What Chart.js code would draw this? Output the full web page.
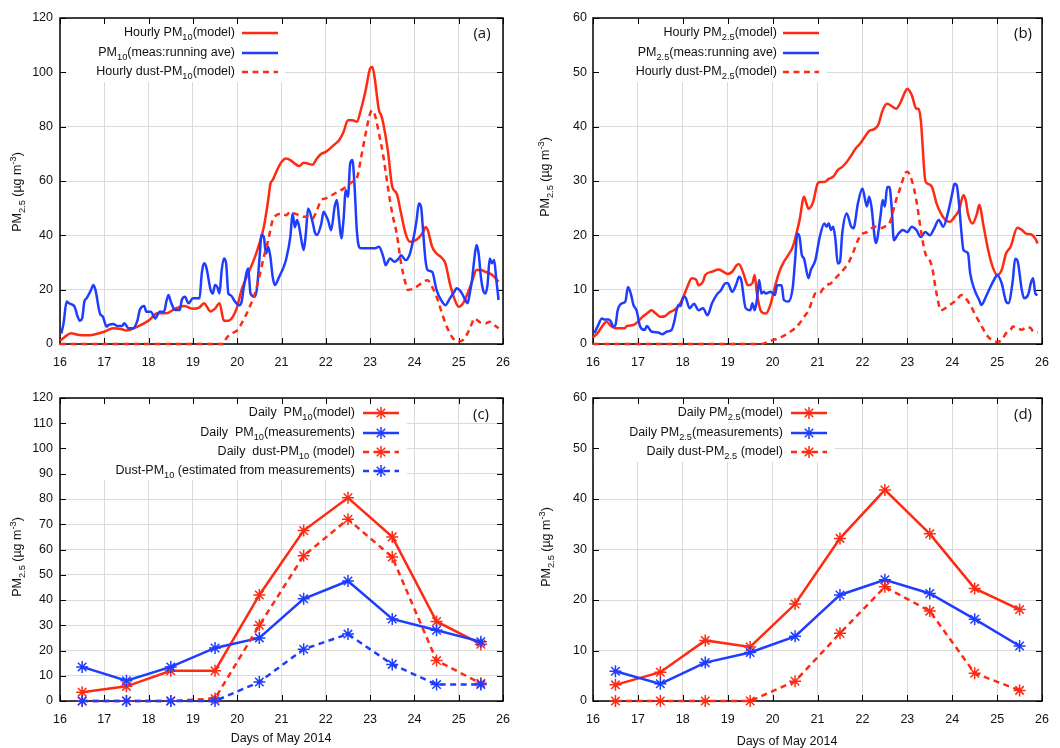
<!DOCTYPE html>
<html>
<head>
<meta charset="utf-8">
<script src="https://cdn.jsdelivr.net/npm/chart.js@4.4.1/dist/chart.umd.min.js"></script>
<style>
  html, body { margin: 0; padding: 0; background: #fff; }
  #wrap { position: relative; width: 1060px; height: 748px; overflow: hidden; background: #fff; }
  canvas { position: absolute; }
</style>
</head>
<body>
<div id="wrap">
  <canvas id="pa" width="530" height="380" style="left:0;top:0"></canvas>
  <canvas id="pb" width="530" height="380" style="left:530px;top:0"></canvas>
  <canvas id="pc" width="530" height="368" style="left:0;top:380px"></canvas>
  <canvas id="pd" width="530" height="368" style="left:530px;top:380px"></canvas>
</div>
<script>
// ---------- hourly series, 16-26 May 2014: [day, µg m-3] ----------
const hourlyPM10Model = [
  [16.0,1.2],[16.1,2.5],[16.25,4],[16.4,3.4],[16.6,3.2],[16.75,3.4],[17.0,4.5],[17.2,5.8],[17.4,5.4],[17.5,5],
  [17.75,6.4],[18.0,8.6],[18.2,11.3],[18.4,11.3],[18.6,13],[18.8,14],[19.0,13],[19.15,13.5],[19.25,15],[19.4,12],
  [19.5,13],[19.6,15],[19.7,8.6],[19.8,8.6],[19.9,10],[20.0,13.7],[20.1,20],[20.25,26],[20.4,32],[20.5,37],
  [20.6,43],[20.7,53],[20.75,59],[20.8,60.3],[20.9,64],[21.0,67],[21.1,68.3],[21.2,67.7],[21.3,66.4],[21.4,65.5],
  [21.5,66.7],[21.6,66.4],[21.7,66],[21.8,68.3],[21.9,70],[22.0,70.7],[22.1,72],[22.2,73.5],[22.3,75],[22.4,78],
  [22.5,82.4],[22.6,82.4],[22.7,81.8],[22.8,86.7],[22.9,93.4],[23.0,101.4],[23.05,102],[23.1,98.3],[23.2,86],[23.25,84.2],
  [23.3,81],[23.4,71.3],[23.5,57.9],[23.6,55.4],[23.7,48],[23.8,40.7],[23.9,37.6],[24.0,38],[24.1,39.2],[24.2,41.3],
  [24.25,43.1],[24.3,42],[24.4,35.8],[24.5,33.3],[24.6,32],[24.7,29.7],[24.8,22.3],[24.9,16.8],[25.0,13.7],[25.1,15],
  [25.2,18.6],[25.3,22.9],[25.4,27.2],[25.5,27.2],[25.6,26.6],[25.7,26],[25.8,24.8],[25.9,22.9]
];
const hourlyPM10Meas = [
  [16.03,3.9],[16.08,7.6],[16.15,15.6],[16.2,15],[16.25,14.7],[16.33,13.7],[16.4,10],[16.45,8.6],[16.5,9.4],[16.55,15.6],
  [16.6,16.8],[16.7,19.9],[16.75,21.7],[16.8,19.9],[16.9,11.3],[16.97,10],[17.05,6.4],[17.1,7],[17.2,7.4],[17.3,6.6],
  [17.4,6.6],[17.45,7.6],[17.55,5.8],[17.65,5.8],[17.75,8.8],[17.8,12.5],[17.9,14],[17.95,11.9],[18.05,11.9],[18.15,9.4],
  [18.25,11.9],[18.35,11.9],[18.4,15.6],[18.45,18],[18.5,15.6],[18.6,12.5],[18.7,12.5],[18.75,16.2],[18.82,17.4],[18.9,15],
  [19.0,16.8],[19.15,16.8],[19.2,26],[19.25,29.7],[19.3,28.4],[19.4,19.9],[19.45,18.6],[19.5,21.7],[19.55,21],[19.6,18.6],
  [19.65,27.2],[19.7,31.5],[19.75,29.7],[19.8,18.6],[19.85,18],[19.95,15.6],[20.05,14.3],[20.1,15.6],[20.15,21],[20.25,27.8],
  [20.3,18.6],[20.4,17.4],[20.45,21],[20.5,30.9],[20.55,40.1],[20.6,39.5],[20.65,33.3],[20.7,35.8],[20.75,32],[20.8,24.8],
  [20.85,21.7],[20.95,24.8],[21.05,28.4],[21.1,30.9],[21.2,39.5],[21.25,48],[21.3,43],[21.35,45.6],[21.4,43],[21.45,38.2],
  [21.5,34.6],[21.55,40.7],[21.6,49.9],[21.7,45],[21.75,41.3],[21.8,40.1],[21.9,44.4],[21.95,48.7],[22.0,47.4],[22.05,45.6],
  [22.12,41.9],[22.2,50.5],[22.25,53],[22.3,45.6],[22.35,38.9],[22.4,45.6],[22.45,56.6],[22.5,54.2],[22.55,66.4],[22.6,67.7],
  [22.65,57.9],[22.7,41.9],[22.75,35.8],[22.8,35.2],[22.9,35.2],[23.0,35.2],[23.1,35.2],[23.2,35.8],[23.3,32],[23.35,29],
  [23.45,31.5],[23.55,30.3],[23.65,31.5],[23.7,32.7],[23.8,30.9],[23.9,33.3],[24.0,40.7],[24.05,45.6],[24.1,51.7],[24.15,50.5],
  [24.2,40.7],[24.25,30.9],[24.3,27.2],[24.4,26.6],[24.5,19.9],[24.6,16.2],[24.7,14.3],[24.8,16.8],[24.9,19.2],[24.95,20.5],
  [25.05,19.2],[25.15,16.2],[25.2,15],[25.25,18.6],[25.3,23.5],[25.35,30.9],[25.4,36.4],[25.45,33.3],[25.5,24.8],[25.55,19.9],
  [25.6,18.6],[25.65,21.7],[25.7,31.5],[25.75,29.7],[25.8,30.9],[25.85,23.5],[25.9,16.2]
];
const hourlyDustPM10Model = [
  [16.0,0],[19.7,0],[19.75,2],[19.9,4],[20.0,5],[20.1,7.6],[20.25,12.5],[20.4,18.6],[20.5,24.8],[20.6,32],
  [20.7,38.2],[20.8,45.6],[20.85,47],[21.0,48],[21.1,47.4],[21.2,48.7],[21.3,48],[21.4,47.4],[21.5,46.8],[21.6,47],
  [21.7,46.2],[21.8,49.3],[21.9,53],[22.0,53.6],[22.2,55.4],[22.4,57.2],[22.5,58.5],[22.6,59.7],[22.7,61],[22.8,68.9],
  [22.9,77.5],[23.0,84.8],[23.05,86],[23.1,84.8],[23.2,77.5],[23.3,69],[23.4,57.9],[23.5,48],[23.6,40.7],[23.7,29.7],
  [23.8,22.3],[23.85,19.9],[24.0,20.5],[24.1,21.7],[24.2,22.9],[24.3,23.5],[24.4,21],[24.5,17.4],[24.6,12.5],[24.7,7.6],
  [24.8,4],[24.9,1.5],[25.0,0.9],[25.1,1.5],[25.2,4],[25.3,7.6],[25.35,9.4],[25.5,7.8],[25.6,7.6],[25.7,8.2],
  [25.8,7],[25.9,5.8]
];
const hourlyPM25Model = [
  [16.0,1.2],[16.1,2],[16.2,3.2],[16.3,4.1],[16.4,3.3],[16.5,2.9],[16.7,2.9],[16.75,3.3],[16.9,3.5],[17.0,4.1],
  [17.1,5],[17.2,5.6],[17.3,6.2],[17.4,5.6],[17.5,5],[17.6,5.1],[17.7,5.8],[17.8,6.2],[17.9,6.9],[18.0,8.4],
  [18.1,10.5],[18.2,12.1],[18.3,11.8],[18.35,10.8],[18.45,11.5],[18.5,12.7],[18.65,13.3],[18.8,13.7],[18.9,13.3],[19.0,12.9],
  [19.1,13.3],[19.2,14.5],[19.25,14.7],[19.35,13],[19.45,10.8],[19.55,11.2],[19.6,12.7],[19.65,9.3],[19.75,5.9],[19.85,5.6],
  [19.95,7.2],[20.05,10.5],[20.15,13.3],[20.25,15.1],[20.35,16.4],[20.45,17.9],[20.55,21],[20.6,22.8],[20.7,27.1],[20.75,25.9],
  [20.8,24.9],[20.9,26.1],[21.0,29.5],[21.05,29.8],[21.15,29.8],[21.25,30.4],[21.35,30.8],[21.45,32],[21.55,32.6],[21.65,33.5],
  [21.75,34.7],[21.85,36],[21.95,36.9],[22.05,38.1],[22.15,39.2],[22.25,39.5],[22.35,40.3],[22.45,43],[22.55,44.2],[22.65,43.8],
  [22.75,43.3],[22.85,44.5],[22.95,46.4],[23.0,47],[23.1,45.8],[23.2,43.3],[23.25,43.3],[23.3,41.2],[23.4,30.1],[23.45,29.5],
  [23.55,28.9],[23.65,25.9],[23.75,24],[23.85,22.8],[23.95,22.5],[24.05,23.4],[24.15,24.6],[24.25,27.4],[24.3,26.5],[24.35,24],
  [24.45,22.2],[24.55,24],[24.6,25.6],[24.7,21.6],[24.8,17.3],[24.9,14.2],[25.0,12.7],[25.1,13.6],[25.2,16.7],[25.3,17.9],
  [25.45,21.4],[25.55,21],[25.65,20.3],[25.75,20.2],[25.85,19.4],[25.9,18.5]
];
const hourlyPM25Meas = [
  [16.03,2],[16.1,3.2],[16.2,4.7],[16.25,4.5],[16.35,4.5],[16.4,4.1],[16.45,3.2],[16.5,3.5],[16.55,6.2],[16.65,7.5],
  [16.72,7.8],[16.78,10.5],[16.85,9],[16.9,7.2],[16.97,6.2],[17.05,3.2],[17.15,2.6],[17.2,3.3],[17.3,2.3],[17.45,2.1],
  [17.55,1.8],[17.65,2.3],[17.75,2.6],[17.8,3.8],[17.9,7.2],[17.95,7],[18.0,8.4],[18.05,8.7],[18.15,6.6],[18.25,7.4],
  [18.35,6.2],[18.45,6.6],[18.55,5.3],[18.65,7.5],[18.75,9],[18.85,9.9],[18.95,11.2],[19.0,11.2],[19.1,9.6],[19.2,11.2],
  [19.25,12.4],[19.3,11.8],[19.4,6.6],[19.5,6.2],[19.55,7.5],[19.6,6.2],[19.65,8.1],[19.7,11.8],[19.75,9.3],[19.8,9.6],
  [19.85,9.3],[19.95,9.6],[20.05,9],[20.1,10.8],[20.2,10.8],[20.25,8.1],[20.35,7.8],[20.45,10.5],[20.5,15.4],[20.55,20.3],
  [20.6,19.7],[20.65,16.4],[20.7,15.7],[20.8,12.1],[20.85,13.6],[20.95,15.4],[21.05,19.7],[21.15,22.2],[21.2,21.6],[21.25,22.2],
  [21.3,21],[21.35,21.6],[21.4,19.1],[21.45,14.8],[21.5,15.1],[21.55,20.3],[21.65,24],[21.75,21.6],[21.8,21.3],[21.9,25.9],
  [22.0,28.6],[22.1,25.3],[22.15,27.1],[22.2,25.3],[22.3,18.6],[22.4,23.4],[22.45,26.5],[22.5,25.3],[22.55,28.9],[22.6,28.9],
  [22.65,25.3],[22.7,19.1],[22.8,20.3],[22.9,21],[23.0,20.6],[23.1,21.6],[23.2,21],[23.3,19.7],[23.4,20.6],[23.5,20],
  [23.6,21.3],[23.7,22.8],[23.8,21.6],[23.9,24],[24.0,27.7],[24.05,29.5],[24.1,29.2],[24.15,25.9],[24.2,21],[24.25,17.3],
  [24.35,16.7],[24.4,13],[24.5,9.9],[24.6,8.1],[24.65,7.2],[24.75,8.7],[24.85,10.5],[24.95,12.1],[25.0,12.7],[25.1,11.2],
  [25.2,7.8],[25.25,7.5],[25.35,11.8],[25.4,15.7],[25.45,15.4],[25.55,9.9],[25.6,8.4],[25.7,9.3],[25.75,11.2],[25.8,12.1],
  [25.85,9.3],[25.9,9]
];
const hourlyDustPM25Model = [
  [16.0,0],[19.75,0],[19.9,0.4],[20.0,0.7],[20.2,1.3],[20.4,2.3],[20.5,2.9],[20.6,3.8],[20.7,5],[20.8,6.2],
  [20.9,8.4],[20.95,9.3],[21.05,9.3],[21.1,9.9],[21.2,10.8],[21.3,11.2],[21.4,12.1],[21.5,13],[21.6,13.9],[21.7,15.1],
  [21.8,17],[21.9,19.1],[22.0,20.3],[22.1,20.6],[22.2,21.3],[22.3,21.6],[22.4,21.3],[22.5,21.6],[22.6,22.2],[22.65,23.4],
  [22.75,26.5],[22.85,28.9],[22.95,31.4],[23.0,31.7],[23.1,30.1],[23.2,26.5],[23.3,21],[23.4,16.7],[23.5,15.4],[23.55,14.2],
  [23.65,9.3],[23.75,6.2],[23.85,6.6],[24.0,7.5],[24.1,8.1],[24.2,9],[24.3,8.4],[24.4,7.2],[24.5,5.6],[24.6,4.1],
  [24.7,2.6],[24.8,1.3],[24.9,0.7],[25.0,0.4],[25.1,0.7],[25.2,2],[25.3,2.6],[25.35,3.2],[25.45,2.9],[25.55,2.6],
  [25.65,3.1],[25.75,2.9],[25.8,2.3],[25.9,2.1]
];

// ---------- daily means (plotted at mid-day) ----------
const dailyDays          = [16.5, 17.5, 18.5, 19.5, 20.5, 21.5, 22.5, 23.5, 24.5, 25.5];
const dailyPM10Model     = [3.5, 5.8, 12, 12, 42, 67.5, 80.5, 65, 31.5, 22.5];
const dailyPM10Meas      = [13.5, 8, 13.5, 21, 25, 40.5, 47.5, 32.5, 28, 23.5];
const dailyDustPM10Model = [0, 0, 0, 1, 30, 57.5, 72, 57, 16, 7];
const dailyDustPM10Est   = [0, 0, 0, 0, 7.5, 20.5, 26.5, 14.5, 6.5, 6.5];
const dailyPM25Model     = [3.2, 5.7, 12, 10.7, 19.2, 32.2, 41.8, 33.1, 22.3, 18.1];
const dailyPM25Meas      = [5.9, 3.4, 7.6, 9.6, 12.8, 21, 24, 21.3, 16.2, 10.9];
const dailyDustPM25Model = [0, 0, 0, 0, 3.9, 13.4, 22.6, 17.8, 5.5, 2.1];

// ---------- text ----------
const yTitle = 'PM_{2.5} (µg m^{-3})';
const xTitle = 'Days of May 2014';
const panelTags = ['(a)', '(b)', '(c)', '(d)'];

// ---------- styling ----------
const RED = '#ff2a12';
const BLUE = '#1f3dff';
const GRID = '#dadada';
const FONT = '"Liberation Sans", Arial, Helvetica, sans-serif';
const DASH = [6, 4.5];

// rich text with _{sub} and ^{sup}
function parseRich(s) {
  const segs = []; let buf = ''; let i = 0;
  while (i < s.length) {
    const c = s[i];
    if ((c === '_' || c === '^') && s[i + 1] === '{') {
      if (buf) { segs.push({ t: buf, k: 0 }); buf = ''; }
      const j = s.indexOf('}', i);
      segs.push({ t: s.slice(i + 2, j), k: c === '_' ? 1 : 2 });
      i = j + 1;
    } else { buf += c; i++; }
  }
  if (buf) segs.push({ t: buf, k: 0 });
  return segs;
}
function segFont(k, size) { return (k ? size * 0.74 : size) + 'px ' + FONT; }
function richWidth(ctx, text, size) {
  let w = 0;
  for (const g of parseRich(text)) { ctx.font = segFont(g.k, size); w += ctx.measureText(g.t).width; }
  return w;
}
function drawRich(ctx, text, x, y, size, align) {
  const w = richWidth(ctx, text, size);
  let cx = align === 'right' ? x - w : align === 'center' ? x - w / 2 : x;
  ctx.textAlign = 'left';
  ctx.textBaseline = 'middle';
  for (const g of parseRich(text)) {
    ctx.font = segFont(g.k, size);
    const dy = g.k === 1 ? size * 0.32 : g.k === 2 ? -size * 0.4 : 0;
    ctx.fillText(g.t, cx, y + dy);
    cx += ctx.measureText(g.t).width;
  }
}
function drawStar(ctx, x, y, r) {
  const d = r * Math.SQRT1_2;
  ctx.beginPath();
  ctx.moveTo(x - r, y); ctx.lineTo(x + r, y);
  ctx.moveTo(x, y - r); ctx.lineTo(x, y + r);
  ctx.moveTo(x - d, y - d); ctx.lineTo(x + d, y + d);
  ctx.moveTo(x - d, y + d); ctx.lineTo(x + d, y - d);
  ctx.stroke();
}

// frame with inward mirrored ticks, opaque key, panel tag and axis titles
const gnuFrame = {
  id: 'gnuFrame',
  beforeDatasetsDraw(chart, args, o) {
    const { ctx, chartArea: a, scales: { x, y } } = chart;
    ctx.save();
    // the key box is opaque: it hides the grid from the left border to its right edge
    ctx.fillStyle = '#fff';
    ctx.fillRect(a.left, a.top, o.boxRight - a.left, o.boxBottom - a.top);

    ctx.strokeStyle = '#000';
    ctx.lineWidth = 1;
    ctx.beginPath();
    x.ticks.forEach(t => {
      const px = Math.round(x.getPixelForValue(t.value)) + 0.5;
      ctx.moveTo(px, a.bottom); ctx.lineTo(px, a.bottom - 6);
      ctx.moveTo(px, a.top); ctx.lineTo(px, a.top + 6);
    });
    y.ticks.forEach(t => {
      const py = Math.round(y.getPixelForValue(t.value)) + 0.5;
      ctx.moveTo(a.left, py); ctx.lineTo(a.left + 6, py);
      ctx.moveTo(a.right, py); ctx.lineTo(a.right - 6, py);
    });
    ctx.stroke();
    ctx.lineWidth = 1.5;
    ctx.strokeRect(a.left, a.top, a.right - a.left, a.bottom - a.top);
    ctx.restore();
  },
  afterDatasetsDraw(chart, args, o) {
    const { ctx } = chart;
    ctx.save();
    chart.data.datasets.forEach((ds, i) => {
      const ry = o.rows[i];
      ctx.fillStyle = '#111';
      drawRich(ctx, ds.label, o.textRight, ry, o.keyFont, 'right');
      ctx.strokeStyle = ds.borderColor;
      ctx.lineWidth = ds.borderWidth;
      ctx.setLineDash(ds.borderDash || []);
      ctx.beginPath();
      ctx.moveTo(o.lineX0, ry); ctx.lineTo(o.lineX1, ry);
      ctx.stroke();
      ctx.setLineDash([]);
      if (ds.pointRadius > 0) {
        ctx.lineWidth = ds.pointBorderWidth;
        drawStar(ctx, (o.lineX0 + o.lineX1) / 2, ry, ds.pointRadius);
      }
    });
    ctx.fillStyle = '#111';
    ctx.font = '15px "Open Sans", "DejaVu Sans", sans-serif';
    ctx.textAlign = 'center';
    ctx.textBaseline = 'middle';
    ctx.fillText(o.tag, o.tagX, o.tagY);

    ctx.save();
    ctx.translate(o.yTitleX, o.yTitleY);
    ctx.rotate(-Math.PI / 2);
    drawRich(ctx, yTitle, 0, 0, 12.5, 'center');
    ctx.restore();

    if (o.xTitle) {
      ctx.font = '12.5px ' + FONT;
      ctx.textAlign = 'center';
      ctx.textBaseline = 'middle';
      ctx.fillText(xTitle, o.xTitleX, o.xTitleY);
    }
    ctx.restore();
  }
};

function fromPairs(list) { return list.map(([x, y]) => ({ x, y })); }
function fromDaily(vals) { return dailyDays.map((d, i) => ({ x: d, y: vals[i] })); }

function hourlySet(label, list, color, dashed) {
  return {
    label, data: fromPairs(list), borderColor: color, backgroundColor: color,
    borderWidth: 2.5, borderDash: dashed ? DASH : [], pointRadius: 0,
    cubicInterpolationMode: 'monotone', fill: false, clip: false
  };
}
function dailySet(label, vals, color, dashed) {
  return {
    label, data: fromDaily(vals), borderColor: color, backgroundColor: color,
    borderWidth: 2.5, borderDash: dashed ? DASH : [], tension: 0,
    pointStyle: 'star', pointRadius: 6, pointBorderWidth: 1.5,
    pointBorderColor: color, pointBackgroundColor: color, fill: false, clip: false
  };
}

function makeChart(id, p) {
  const n = p.datasets.length;
  p.datasets.forEach((ds, i) => { ds.order = n - i; });
  return new Chart(document.getElementById(id), {
    type: 'line',
    data: { datasets: p.datasets },
    options: {
      responsive: false,
      animation: false,
      events: [],
      layout: { padding: { top: 18, right: p.padRight, left: 0, bottom: 0 } },
      plugins: { legend: { display: false }, tooltip: { enabled: false }, gnuFrame: p.frame },
      scales: {
        x: {
          type: 'linear', min: 16, max: 26,
          border: { display: false },
          grid: { color: GRID, lineWidth: 1, drawTicks: false },
          ticks: { stepSize: 1, padding: 11, color: '#111', font: { family: FONT, size: 12.5 } },
          afterFit: s => { s.height = p.xHeight; }
        },
        y: {
          type: 'linear', min: 0, max: p.ymax,
          border: { display: false },
          grid: { color: GRID, lineWidth: 1, drawTicks: false },
          ticks: { stepSize: p.ystep, padding: p.yPad, color: '#111', font: { family: FONT, size: 12.5 } },
          afterFit: s => { s.width = p.yWidth; }
        }
      }
    },
    plugins: [gnuFrame]
  });
}

makeChart('pa', {
  padRight: 27, yWidth: 60, yPad: 7, xHeight: 36, ymax: 120, ystep: 20,
  datasets: [
    hourlySet('Hourly PM_{10}(model)', hourlyPM10Model, RED, false),
    hourlySet('PM_{10}(meas:running ave)', hourlyPM10Meas, BLUE, false),
    hourlySet('Hourly dust-PM_{10}(model)', hourlyDustPM10Model, RED, true)
  ],
  frame: { keyFont: 12.5, textRight: 235, lineX0: 242, lineX1: 278, rows: [33, 53, 72],
           boxRight: 285, boxBottom: 82, tag: panelTags[0], tagX: 482, tagY: 34,
           yTitleX: 18, yTitleY: 192 }
});

makeChart('pb', {
  padRight: 17, yWidth: 63, yPad: 6, xHeight: 36, ymax: 60, ystep: 10,
  datasets: [
    hourlySet('Hourly PM_{2.5}(model)', hourlyPM25Model, RED, false),
    hourlySet('PM_{2.5}(meas:running ave)', hourlyPM25Meas, BLUE, false),
    hourlySet('Hourly dust-PM_{2.5}(model)', hourlyDustPM25Model, RED, true)
  ],
  frame: { keyFont: 12.5, textRight: 247, lineX0: 253, lineX1: 289, rows: [33, 53, 72],
           boxRight: 297, boxBottom: 82, tag: panelTags[1], tagX: 493, tagY: 34,
           yTitleX: 16, yTitleY: 177 }
});

makeChart('pc', {
  padRight: 27, yWidth: 60, yPad: 7, xHeight: 47, ymax: 120, ystep: 10,
  datasets: [
    dailySet('Daily  PM_{10}(model)', dailyPM10Model, RED, false),
    dailySet('Daily  PM_{10}(measurements)', dailyPM10Meas, BLUE, false),
    dailySet('Daily  dust-PM_{10} (model)', dailyDustPM10Model, RED, true),
    dailySet('Dust-PM_{10} (estimated from measurements)', dailyDustPM10Est, BLUE, true)
  ],
  frame: { keyFont: 12.5, textRight: 355, lineX0: 363, lineX1: 399, rows: [33, 53, 72, 91],
           boxRight: 407, boxBottom: 100, tag: panelTags[2], tagX: 481, tagY: 35,
           yTitleX: 18, yTitleY: 177, xTitle: true, xTitleX: 281, xTitleY: 359 }
});

makeChart('pd', {
  padRight: 17, yWidth: 63, yPad: 6, xHeight: 47, ymax: 60, ystep: 10,
  datasets: [
    dailySet('Daily PM_{2.5}(model)', dailyPM25Model, RED, false),
    dailySet('Daily PM_{2.5}(measurements)', dailyPM25Meas, BLUE, false),
    dailySet('Daily dust-PM_{2.5} (model)', dailyDustPM25Model, RED, true)
  ],
  frame: { keyFont: 12.5, textRight: 253, lineX0: 261, lineX1: 297, rows: [33, 53, 72],
           boxRight: 305, boxBottom: 82, tag: panelTags[3], tagX: 493, tagY: 35,
           yTitleX: 17, yTitleY: 167, xTitle: true, xTitleX: 257, xTitleY: 362 }
});
</script>
</body>
</html>
